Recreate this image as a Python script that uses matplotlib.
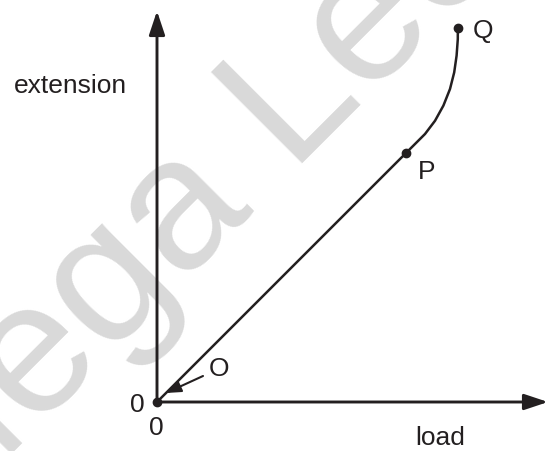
import matplotlib
matplotlib.use("Agg")
import matplotlib.pyplot as plt

plt.rcParams['font.family'] = ['Liberation Sans', 'DejaVu Sans']

# Data (arbitrary units: load, extension)
linear_load = [0.0, 6.225]
linear_ext = [0.0, 6.225]
curve_load = [6.225, 6.45, 6.7, 6.95, 7.16, 7.325, 7.43, 7.49, 7.52, 7.52]
curve_ext = [6.225, 6.45, 6.7, 7.03, 7.41, 7.825, 8.24, 8.66, 9.075, 9.34]
point_names = ["P", "Q"]
point_load = [6.225, 7.52]
point_ext = [6.225, 9.34]

W, H = 553, 452
fig = plt.figure(figsize=(W / 100, H / 100), dpi=100)
ax = fig.add_axes([0, 0, 1, 1])
s = 40.0
ox, oy = 157, 403
ax.set_xlim(-ox / s, (W - ox) / s)
ax.set_ylim(-(H - oy) / s, oy / s)
ax.axis('off')

ink = '#231f20'


def px(x, y):
    return (x - ox) / s, (oy - y) / s


# watermark
wx, wy = px(-77, 542)
ax.text(wx, wy, "Mega Lecture", fontsize=135, color='#d9d9d9',
        rotation=45, rotation_mode='anchor', ha='left', va='baseline', zorder=0)

# axes with arrows
ax.annotate('', xy=px(157, 12), xytext=(0, 0),
            arrowprops=dict(arrowstyle='-|>,head_length=1.44,head_width=0.48',
                            lw=2.1, color=ink, shrinkA=0, shrinkB=0), zorder=3)
ax.annotate('', xy=px(548, 403), xytext=(0, 0),
            arrowprops=dict(arrowstyle='-|>,head_length=1.44,head_width=0.48',
                            lw=2.1, color=ink, shrinkA=0, shrinkB=0), zorder=3)

# graph
ax.plot(linear_load, linear_ext, color=ink, lw=1.8, zorder=4, solid_capstyle='butt')
ax.plot(curve_load, curve_ext, color=ink, lw=1.8, zorder=4, solid_joinstyle='round')
ax.plot([0], [0], 'o', color=ink, ms=6, zorder=5)
ax.plot(point_load, point_ext, 'o', color=ink, ms=6, zorder=5)

# labels
fs = 19
labels = [("Q", 483, 31), ("P", 427, 172), ("O", 219, 369), ("0", 137, 405),
          ("0", 156, 428), ("load", 440, 438), ("extension", 70, 86)]
for t, x, y in labels:
    ax.text(*px(x, y), t, fontsize=fs, color=ink, ha='center', va='center')

# arrow pointing to O
ax.annotate('', xy=px(166, 394), xytext=px(203, 377),
            arrowprops=dict(arrowstyle='-|>,head_length=0.9,head_width=0.35',
                            lw=1.5, color=ink, shrinkA=0, shrinkB=0), zorder=4)

fig.savefig('out.png', dpi=100)
